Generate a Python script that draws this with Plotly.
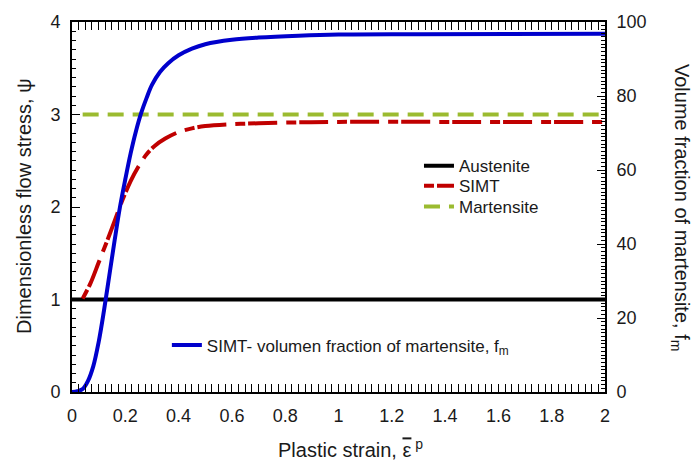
import plotly.graph_objects as go

# Plastic strain range and constant phase stresses
strain_range = [0.0, 2.0]
austenite_x = [0.0, 2.0]
austenite_psi = [1.0, 1.0]
martensite_x = [0.04, 2.0]
martensite_psi = [3.0, 3.0]

# Stress-induced martensitic transformation (SIMT) flow stress
simt_x = [0.04, 0.07, 0.10, 0.13, 0.16, 0.19, 0.22, 0.25, 0.28, 0.31,
          0.35, 0.40, 0.45, 0.50, 0.60, 0.70, 0.85, 1.0, 1.5, 2.0]
simt_psi = [1.01, 1.18, 1.40, 1.62, 1.85, 2.08, 2.28, 2.44, 2.57, 2.66,
            2.74, 2.81, 2.85, 2.875, 2.895, 2.905, 2.915, 2.92, 2.92, 2.92]

# Volume fraction of martensite, %
fm_x = [0.0, 0.02, 0.04, 0.06, 0.08, 0.10, 0.12, 0.14, 0.16, 0.18, 0.20, 0.22,
        0.24, 0.26, 0.28, 0.30, 0.33, 0.36, 0.40, 0.45, 0.50, 0.60, 0.70, 0.85,
        1.0, 1.3, 2.0]
fm_pct = [0.0, 0.2, 0.8, 3.0, 7.0, 13.5, 22.0, 31.5, 41.0, 50.0, 57.5, 64.5,
          70.5, 75.5, 79.5, 83.0, 86.5, 88.8, 91.0, 92.8, 94.0, 95.2, 95.8, 96.3,
          96.6, 96.7, 96.8]

FONT = "Arial, Liberation Sans, sans-serif"
TXT = "#1a1a1a"

fig = go.Figure()
fig.add_trace(go.Scatter(x=austenite_x, y=austenite_psi, mode="lines", name="Austenite",
                         line=dict(color="black", width=4), legend="legend"))
fig.add_trace(go.Scatter(x=simt_x, y=simt_psi, mode="lines", name="SIMT",
                         line=dict(color="#C00000", width=4, dash="10px,3px,29px,9px",
                                   shape="spline"), legend="legend3"))
fig.add_trace(go.Scatter(x=martensite_x, y=martensite_psi, mode="lines", name="Martensite",
                         line=dict(color="#9BBB30", width=4, dash="16px,9px"), legend="legend4"))
fig.add_trace(go.Scatter(x=fm_x, y=fm_pct, mode="lines", yaxis="y2",
                         name="SIMT- volumen fraction of martensite, f<sub>m</sub>",
                         line=dict(color="#0000CC", width=4, shape="spline"), legend="legend2"))

axis_common = dict(showgrid=False, zeroline=False, showline=True, linecolor="black",
                   linewidth=2, ticks="inside", tickcolor="black", tickwidth=1,
                   ticklen=8, tickfont=dict(family=FONT, size=18, color=TXT))

legend_style = dict(xanchor="left", yanchor="middle", bgcolor="rgba(0,0,0,0)",
                    font=dict(family=FONT, size=17, color=TXT))

fig.update_layout(
    width=692, height=462,
    margin=dict(l=72, r=87, t=20, b=70),
    paper_bgcolor="white", plot_bgcolor="white",
    font=dict(family=FONT, color=TXT),
    xaxis=dict(range=strain_range, dtick=0.2, mirror="allticks",
               minor=dict(dtick=0.025, ticks="inside", ticklen=4, tickcolor="black"),
               ticklabelstandoff=6, **axis_common),
    yaxis=dict(range=[0, 4], dtick=1, mirror=True,
               minor=dict(dtick=0.1, ticks="inside", ticklen=4, tickcolor="black"),
               ticklabelstandoff=6, **axis_common),
    yaxis2=dict(range=[0, 100], dtick=20, overlaying="y", side="right",
                minor=dict(dtick=1, ticks="inside", ticklen=4, tickcolor="black"),
                ticklabelstandoff=6, **axis_common),
    legend=dict(x=0.651, y=0.610, **legend_style),
    legend3=dict(x=0.651, y=0.556, **legend_style),
    legend4=dict(x=0.651, y=0.500, **legend_style),
    legend2=dict(x=0.178, y=0.126, **legend_style),
    showlegend=True,
)

# Axis titles
fig.add_annotation(text="Plastic strain, <span style='text-decoration:overline'>ε</span><sup> p</sup>",
                   xref="paper", yref="paper",
                   x=0.5, y=0, yshift=-56, xshift=12, showarrow=False,
                   xanchor="center", yanchor="middle", font=dict(family=FONT, size=20))
fig.add_annotation(text="Dimensionless flow stress, ψ", xref="paper", yref="paper",
                   x=0, y=0.5, xshift=-48, textangle=-90, showarrow=False,
                   xanchor="center", yanchor="middle", font=dict(family=FONT, size=20))
fig.add_annotation(text="Volume fraction of martensite, f<sub>m</sub>", xref="paper", yref="paper",
                   x=1, y=0.5, xshift=76, textangle=90, showarrow=False,
                   xanchor="center", yanchor="middle", font=dict(family=FONT, size=20))

fig.write_html("out.html")
